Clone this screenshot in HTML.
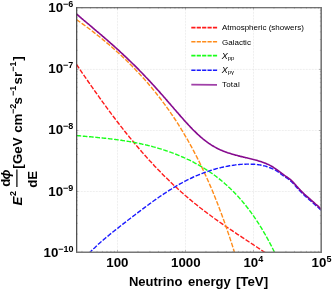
<!DOCTYPE html>
<html><head><meta charset="utf-8"><style>
html,body{margin:0;padding:0;background:#fff;overflow:hidden;}
svg{display:block;}
text{font-family:"Liberation Sans",sans-serif;}
.b{font-weight:bold;font-size:13.3px;fill:#000;}
.s{font-weight:bold;font-size:9px;fill:#000;}
.lg{font-size:8px;fill:#000;}
</style></head><body>
<svg style="will-change:transform" width="332" height="292" viewBox="0 0 332 292">
<defs><clipPath id="c"><rect x="76.5" y="7.5" width="245.0" height="245.0"/></clipPath></defs>
<rect width="332" height="292" fill="#fff"/>
<g stroke="#d6d6d6" stroke-width="0.6" stroke-dasharray="0.7 0.8" fill="none"><line x1="117.50" y1="7.50" x2="117.50" y2="252.50"/><line x1="185.50" y1="7.50" x2="185.50" y2="252.50"/><line x1="253.50" y1="7.50" x2="253.50" y2="252.50"/><line x1="76.50" y1="69.40" x2="321.50" y2="69.40"/><line x1="76.50" y1="130.50" x2="321.50" y2="130.50"/><line x1="76.50" y1="191.50" x2="321.50" y2="191.50"/></g>
<g fill="none" stroke-width="1.4" stroke-dasharray="4.7 1.6" clip-path="url(#c)">
<path d="M76.5,64.4 L77.5,65.9 L78.5,67.4 L79.5,68.9 L80.5,70.3 L81.5,71.8 L82.5,73.3 L83.5,74.7 L84.5,76.2 L85.5,77.6 L86.5,79.1 L87.5,80.5 L88.5,82.0 L89.5,83.4 L90.5,84.9 L91.5,86.3 L92.5,87.7 L93.5,89.2 L94.5,90.6 L95.5,92.0 L96.5,93.4 L97.5,94.8 L98.5,96.2 L99.5,97.6 L100.5,99.0 L101.5,100.4 L102.5,101.8 L103.5,103.2 L104.5,104.6 L105.5,105.9 L106.5,107.3 L107.5,108.7 L108.5,110.0 L109.5,111.4 L110.5,112.7 L111.5,114.1 L112.5,115.4 L113.5,116.7 L114.5,118.0 L115.5,119.4 L116.5,120.7 L117.5,122.0 L118.5,123.3 L119.5,124.6 L120.5,125.9 L121.5,127.1 L122.5,128.4 L123.5,129.7 L124.5,131.0 L125.5,132.2 L126.5,133.5 L127.5,134.7 L128.5,135.9 L129.5,137.2 L130.5,138.4 L131.5,139.6 L132.5,140.8 L133.5,142.0 L134.5,143.3 L135.5,144.4 L136.5,145.6 L137.5,146.8 L138.5,148.0 L139.5,149.2 L140.5,150.3 L141.5,151.5 L142.5,152.6 L143.5,153.8 L144.5,154.9 L145.5,156.0 L146.5,157.1 L147.5,158.3 L148.5,159.4 L149.5,160.5 L150.5,161.6 L151.5,162.6 L152.5,163.7 L153.5,164.8 L154.5,165.9 L155.5,166.9 L156.5,168.0 L157.5,169.0 L158.5,170.1 L159.5,171.1 L160.5,172.1 L161.5,173.1 L162.5,174.2 L163.5,175.2 L164.5,176.2 L165.5,177.2 L166.5,178.1 L167.5,179.1 L168.5,180.1 L169.5,181.1 L170.5,182.0 L171.5,183.0 L172.5,183.9 L173.5,184.9 L174.5,185.8 L175.5,186.7 L176.5,187.6 L177.5,188.6 L178.5,189.5 L179.5,190.4 L180.5,191.3 L181.5,192.2 L182.5,193.0 L183.5,193.9 L184.5,194.8 L185.5,195.7 L186.5,196.5 L187.5,197.4 L188.5,198.2 L189.5,199.1 L190.5,199.9 L191.5,200.7 L192.5,201.6 L193.5,202.4 L194.5,203.2 L195.5,204.0 L196.5,204.8 L197.5,205.6 L198.5,206.4 L199.5,207.2 L200.5,208.0 L201.5,208.7 L202.5,209.5 L203.5,210.3 L204.5,211.1 L205.5,211.8 L206.5,212.6 L207.5,213.3 L208.5,214.1 L209.5,214.8 L210.5,215.5 L211.5,216.3 L212.5,217.0 L213.5,217.7 L214.5,218.5 L215.5,219.2 L216.5,219.9 L217.5,220.6 L218.5,221.3 L219.5,222.0 L220.5,222.7 L221.5,223.4 L222.5,224.1 L223.5,224.8 L224.5,225.5 L225.5,226.2 L226.5,226.9 L227.5,227.5 L228.5,228.2 L229.5,228.9 L230.5,229.6 L231.5,230.2 L232.5,230.9 L233.5,231.6 L234.5,232.3 L235.5,232.9 L236.5,233.6 L237.5,234.3 L238.5,234.9 L239.5,235.6 L240.5,236.2 L241.5,236.9 L242.5,237.6 L243.5,238.2 L244.5,238.9 L245.5,239.5 L246.5,240.2 L247.5,240.9 L248.5,241.5 L249.5,242.2 L250.5,242.8 L251.5,243.5 L252.5,244.2 L253.5,244.8 L254.5,245.5 L255.5,246.2 L256.5,246.8 L257.5,247.5 L258.5,248.2 L259.5,248.8 L260.5,249.5 L261.5,250.2 L262.5,250.9 L263.5,251.6 L264.5,252.2 L265.5,252.9 L266.5,253.6 L267.5,254.3 L268.5,255.0 L269.5,255.7 L270.5,256.4 L271.5,257.1 L272.5,257.7 L273.5,258.4" stroke="#ff1a1a"/>
<path d="M76.5,19.6 L77.5,20.3 L78.5,21.0 L79.5,21.7 L80.5,22.4 L81.5,23.2 L82.5,23.9 L83.5,24.6 L84.5,25.3 L85.5,26.1 L86.5,26.8 L87.5,27.5 L88.5,28.3 L89.5,29.0 L90.5,29.8 L91.5,30.5 L92.5,31.3 L93.5,32.1 L94.5,32.9 L95.5,33.6 L96.5,34.4 L97.5,35.2 L98.5,36.0 L99.5,36.8 L100.5,37.6 L101.5,38.4 L102.5,39.2 L103.5,40.1 L104.5,40.9 L105.5,41.7 L106.5,42.6 L107.5,43.4 L108.5,44.2 L109.5,45.1 L110.5,46.0 L111.5,46.8 L112.5,47.7 L113.5,48.6 L114.5,49.5 L115.5,50.4 L116.5,51.3 L117.5,52.2 L118.5,53.1 L119.5,54.0 L120.5,54.9 L121.5,55.8 L122.5,56.8 L123.5,57.7 L124.5,58.7 L125.5,59.6 L126.5,60.6 L127.5,61.6 L128.5,62.6 L129.5,63.6 L130.5,64.6 L131.5,65.6 L132.5,66.6 L133.5,67.6 L134.5,68.6 L135.5,69.7 L136.5,70.7 L137.5,71.8 L138.5,72.8 L139.5,73.9 L140.5,75.0 L141.5,76.1 L142.5,77.2 L143.5,78.3 L144.5,79.4 L145.5,80.5 L146.5,81.7 L147.5,82.8 L148.5,84.0 L149.5,85.2 L150.5,86.4 L151.5,87.5 L152.5,88.8 L153.5,90.0 L154.5,91.2 L155.5,92.4 L156.5,93.7 L157.5,95.0 L158.5,96.2 L159.5,97.5 L160.5,98.8 L161.5,100.1 L162.5,101.5 L163.5,102.8 L164.5,104.2 L165.5,105.5 L166.5,106.9 L167.5,108.3 L168.5,109.7 L169.5,111.1 L170.5,112.6 L171.5,114.1 L172.5,115.5 L173.5,117.0 L174.5,118.5 L175.5,120.0 L176.5,121.6 L177.5,123.1 L178.5,124.7 L179.5,126.3 L180.5,127.9 L181.5,129.6 L182.5,131.2 L183.5,132.9 L184.5,134.6 L185.5,136.3 L186.5,138.0 L187.5,139.7 L188.5,141.5 L189.5,143.3 L190.5,145.1 L191.5,146.9 L192.5,148.8 L193.5,150.7 L194.5,152.6 L195.5,154.5 L196.5,156.4 L197.5,158.4 L198.5,160.4 L199.5,162.4 L200.5,164.5 L201.5,166.5 L202.5,168.6 L203.5,170.7 L204.5,172.9 L205.5,175.1 L206.5,177.3 L207.5,179.5 L208.5,181.8 L209.5,184.1 L210.5,186.4 L211.5,188.7 L212.5,191.1 L213.5,193.5 L214.5,196.0 L215.5,198.5 L216.5,201.0 L217.5,203.5 L218.5,206.1 L219.5,208.7 L220.5,211.4 L221.5,214.0 L222.5,216.8 L223.5,219.5 L224.5,222.3 L225.5,225.1 L226.5,228.0 L227.5,230.9 L228.5,233.9 L229.5,236.8 L230.5,239.9 L231.5,242.9 L232.5,246.0 L233.5,249.2 L234.5,252.4 L235.5,255.6" stroke="#ff8c1a"/>
<path d="M76.5,135.5 L77.5,135.6 L78.5,135.7 L79.5,135.8 L80.5,135.9 L81.5,136.0 L82.5,136.1 L83.5,136.2 L84.5,136.3 L85.5,136.4 L86.5,136.5 L87.5,136.6 L88.5,136.7 L89.5,136.7 L90.5,136.8 L91.5,136.9 L92.5,137.0 L93.5,137.1 L94.5,137.2 L95.5,137.3 L96.5,137.4 L97.5,137.5 L98.5,137.6 L99.5,137.7 L100.5,137.8 L101.5,137.9 L102.5,138.0 L103.5,138.1 L104.5,138.2 L105.5,138.3 L106.5,138.4 L107.5,138.5 L108.5,138.6 L109.5,138.8 L110.5,138.9 L111.5,139.0 L112.5,139.1 L113.5,139.2 L114.5,139.4 L115.5,139.5 L116.5,139.6 L117.5,139.8 L118.5,139.9 L119.5,140.0 L120.5,140.2 L121.5,140.3 L122.5,140.5 L123.5,140.6 L124.5,140.8 L125.5,140.9 L126.5,141.1 L127.5,141.3 L128.5,141.4 L129.5,141.6 L130.5,141.8 L131.5,142.0 L132.5,142.1 L133.5,142.3 L134.5,142.5 L135.5,142.7 L136.5,142.9 L137.5,143.1 L138.5,143.3 L139.5,143.5 L140.5,143.7 L141.5,143.9 L142.5,144.2 L143.5,144.4 L144.5,144.6 L145.5,144.8 L146.5,145.1 L147.5,145.3 L148.5,145.6 L149.5,145.8 L150.5,146.1 L151.5,146.3 L152.5,146.6 L153.5,146.9 L154.5,147.1 L155.5,147.4 L156.5,147.7 L157.5,148.0 L158.5,148.3 L159.5,148.6 L160.5,148.9 L161.5,149.2 L162.5,149.5 L163.5,149.8 L164.5,150.2 L165.5,150.5 L166.5,150.8 L167.5,151.2 L168.5,151.5 L169.5,151.9 L170.5,152.2 L171.5,152.6 L172.5,152.9 L173.5,153.3 L174.5,153.7 L175.5,154.1 L176.5,154.5 L177.5,154.9 L178.5,155.3 L179.5,155.7 L180.5,156.1 L181.5,156.6 L182.5,157.0 L183.5,157.4 L184.5,157.9 L185.5,158.3 L186.5,158.8 L187.5,159.3 L188.5,159.7 L189.5,160.2 L190.5,160.7 L191.5,161.2 L192.5,161.7 L193.5,162.2 L194.5,162.8 L195.5,163.3 L196.5,163.9 L197.5,164.4 L198.5,165.0 L199.5,165.5 L200.5,166.1 L201.5,166.7 L202.5,167.3 L203.5,167.9 L204.5,168.5 L205.5,169.2 L206.5,169.8 L207.5,170.4 L208.5,171.1 L209.5,171.8 L210.5,172.5 L211.5,173.1 L212.5,173.8 L213.5,174.6 L214.5,175.3 L215.5,176.0 L216.5,176.8 L217.5,177.6 L218.5,178.3 L219.5,179.1 L220.5,179.9 L221.5,180.7 L222.5,181.6 L223.5,182.4 L224.5,183.3 L225.5,184.2 L226.5,185.0 L227.5,186.0 L228.5,186.9 L229.5,187.8 L230.5,188.8 L231.5,189.7 L232.5,190.7 L233.5,191.7 L234.5,192.7 L235.5,193.8 L236.5,194.8 L237.5,195.9 L238.5,197.0 L239.5,198.1 L240.5,199.2 L241.5,200.4 L242.5,201.6 L243.5,202.8 L244.5,204.0 L245.5,205.2 L246.5,206.5 L247.5,207.7 L248.5,209.0 L249.5,210.4 L250.5,211.7 L251.5,213.1 L252.5,214.5 L253.5,215.9 L254.5,217.3 L255.5,218.8 L256.5,220.3 L257.5,221.8 L258.5,223.4 L259.5,225.0 L260.5,226.6 L261.5,228.2 L262.5,229.9 L263.5,231.6 L264.5,233.3 L265.5,235.0 L266.5,236.8 L267.5,238.6 L268.5,240.5 L269.5,242.4 L270.5,244.3 L271.5,246.2 L272.5,248.2 L273.5,250.2 L274.5,252.3 L275.5,254.3 L276.5,256.4 L277.5,258.5" stroke="#1aff1a"/>
<path d="M84.5,257.8 L85.5,256.8 L86.5,255.8 L87.5,254.7 L88.5,253.7 L89.5,252.7 L90.5,251.8 L91.5,250.8 L92.5,249.8 L93.5,248.8 L94.5,247.9 L95.5,246.9 L96.5,246.0 L97.5,245.1 L98.5,244.1 L99.5,243.2 L100.5,242.3 L101.5,241.5 L102.5,240.6 L103.5,239.7 L104.5,238.9 L105.5,238.0 L106.5,237.2 L107.5,236.4 L108.5,235.6 L109.5,234.7 L110.5,233.9 L111.5,233.1 L112.5,232.3 L113.5,231.5 L114.5,230.7 L115.5,229.9 L116.5,229.1 L117.5,228.4 L118.5,227.6 L119.5,226.8 L120.5,226.0 L121.5,225.2 L122.5,224.4 L123.5,223.6 L124.5,222.9 L125.5,222.1 L126.5,221.3 L127.5,220.5 L128.5,219.8 L129.5,219.0 L130.5,218.2 L131.5,217.5 L132.5,216.7 L133.5,215.9 L134.5,215.2 L135.5,214.4 L136.5,213.6 L137.5,212.9 L138.5,212.1 L139.5,211.4 L140.5,210.6 L141.5,209.9 L142.5,209.1 L143.5,208.4 L144.5,207.6 L145.5,206.9 L146.5,206.1 L147.5,205.4 L148.5,204.7 L149.5,203.9 L150.5,203.2 L151.5,202.5 L152.5,201.8 L153.5,201.0 L154.5,200.3 L155.5,199.6 L156.5,198.9 L157.5,198.2 L158.5,197.5 L159.5,196.8 L160.5,196.1 L161.5,195.5 L162.5,194.8 L163.5,194.1 L164.5,193.4 L165.5,192.8 L166.5,192.1 L167.5,191.5 L168.5,190.8 L169.5,190.2 L170.5,189.6 L171.5,189.0 L172.5,188.3 L173.5,187.7 L174.5,187.1 L175.5,186.5 L176.5,185.9 L177.5,185.3 L178.5,184.8 L179.5,184.2 L180.5,183.6 L181.5,183.1 L182.5,182.5 L183.5,182.0 L184.5,181.5 L185.5,181.0 L186.5,180.4 L187.5,179.9 L188.5,179.4 L189.5,178.9 L190.5,178.5 L191.5,178.0 L192.5,177.5 L193.5,177.0 L194.5,176.6 L195.5,176.2 L196.5,175.7 L197.5,175.3 L198.5,174.9 L199.5,174.5 L200.5,174.1 L201.5,173.7 L202.5,173.3 L203.5,172.9 L204.5,172.5 L205.5,172.2 L206.5,171.8 L207.5,171.5 L208.5,171.1 L209.5,170.8 L210.5,170.5 L211.5,170.2 L212.5,169.8 L213.5,169.5 L214.5,169.3 L215.5,169.0 L216.5,168.7 L217.5,168.4 L218.5,168.2 L219.5,167.9 L220.5,167.7 L221.5,167.4 L222.5,167.2 L223.5,167.0 L224.5,166.8 L225.5,166.6 L226.5,166.4 L227.5,166.2 L228.5,166.0 L229.5,165.8 L230.5,165.7 L231.5,165.5 L232.5,165.4 L233.5,165.2 L234.5,165.1 L235.5,164.9 L236.5,164.8 L237.5,164.7 L238.5,164.6 L239.5,164.5 L240.5,164.4 L241.5,164.4 L242.5,164.3 L243.5,164.3 L244.5,164.2 L245.5,164.2 L246.5,164.1 L247.5,164.1 L248.5,164.1 L249.5,164.1 L250.5,164.1 L251.5,164.2 L252.5,164.2 L253.5,164.3 L254.5,164.3 L255.5,164.4 L256.5,164.5 L257.5,164.6 L258.5,164.7 L259.5,164.9 L260.5,165.0 L261.5,165.2 L262.5,165.4 L263.5,165.7 L264.5,165.9 L265.5,166.2 L266.5,166.5 L267.5,166.9 L268.5,167.2 L269.5,167.6 L270.5,168.0 L271.5,168.4 L272.5,168.8 L273.5,169.2 L274.5,169.7 L275.5,170.2 L276.5,170.8 L277.5,171.4 L278.5,172.2 L279.5,173.0 L280.5,173.7 L281.5,174.5 L282.5,175.2 L283.5,175.8 L284.5,176.5 L285.5,177.2 L286.5,177.8 L287.5,178.5 L288.5,179.2 L289.5,180.0 L290.5,180.9 L291.5,181.8 L292.5,182.8 L293.5,183.8 L294.5,184.9 L295.5,186.0 L296.5,187.2 L297.5,188.3 L298.5,189.4 L299.5,190.5 L300.5,191.6 L301.5,192.6 L302.5,193.6 L303.5,194.5 L304.5,195.5 L305.5,196.4 L306.5,197.2 L307.5,198.1 L308.5,199.0 L309.5,199.9 L310.5,200.8 L311.5,201.6 L312.5,202.5 L313.5,203.4 L314.5,204.3 L315.5,205.2 L316.5,206.0 L317.5,206.9 L318.5,207.8 L319.5,208.8 L320.5,209.7 L321.5,210.6" stroke="#1a1aff"/>
</g>
<path d="M76.5,14.0 L77.5,14.8 L78.5,15.7 L79.5,16.6 L80.5,17.4 L81.5,18.3 L82.5,19.1 L83.5,20.0 L84.5,20.8 L85.5,21.7 L86.5,22.5 L87.5,23.4 L88.5,24.2 L89.5,25.0 L90.5,25.9 L91.5,26.7 L92.5,27.6 L93.5,28.4 L94.5,29.3 L95.5,30.1 L96.5,31.0 L97.5,31.8 L98.5,32.7 L99.5,33.5 L100.5,34.4 L101.5,35.2 L102.5,36.1 L103.5,36.9 L104.5,37.8 L105.5,38.7 L106.5,39.5 L107.5,40.4 L108.5,41.3 L109.5,42.2 L110.5,43.1 L111.5,43.9 L112.5,44.8 L113.5,45.7 L114.5,46.6 L115.5,47.5 L116.5,48.4 L117.5,49.3 L118.5,50.2 L119.5,51.1 L120.5,52.1 L121.5,53.0 L122.5,53.9 L123.5,54.9 L124.5,55.8 L125.5,56.7 L126.5,57.7 L127.5,58.6 L128.5,59.6 L129.5,60.6 L130.5,61.5 L131.5,62.5 L132.5,63.5 L133.5,64.4 L134.5,65.4 L135.5,66.4 L136.5,67.4 L137.5,68.4 L138.5,69.4 L139.5,70.5 L140.5,71.5 L141.5,72.5 L142.5,73.5 L143.5,74.6 L144.5,75.6 L145.5,76.7 L146.5,77.7 L147.5,78.8 L148.5,79.9 L149.5,80.9 L150.5,82.0 L151.5,83.1 L152.5,84.2 L153.5,85.3 L154.5,86.4 L155.5,87.5 L156.5,88.6 L157.5,89.7 L158.5,90.8 L159.5,91.9 L160.5,93.1 L161.5,94.2 L162.5,95.3 L163.5,96.5 L164.5,97.6 L165.5,98.8 L166.5,99.9 L167.5,101.1 L168.5,102.2 L169.5,103.4 L170.5,104.5 L171.5,105.7 L172.5,106.8 L173.5,108.0 L174.5,109.2 L175.5,110.3 L176.5,111.5 L177.5,112.6 L178.5,113.8 L179.5,114.9 L180.5,116.1 L181.5,117.2 L182.5,118.3 L183.5,119.5 L184.5,120.6 L185.5,121.7 L186.5,122.8 L187.5,123.9 L188.5,125.0 L189.5,126.0 L190.5,127.1 L191.5,128.1 L192.5,129.2 L193.5,130.2 L194.5,131.2 L195.5,132.1 L196.5,133.1 L197.5,134.1 L198.5,135.0 L199.5,135.9 L200.5,136.8 L201.5,137.6 L202.5,138.5 L203.5,139.3 L204.5,140.1 L205.5,140.9 L206.5,141.6 L207.5,142.4 L208.5,143.1 L209.5,143.8 L210.5,144.4 L211.5,145.1 L212.5,145.7 L213.5,146.3 L214.5,146.9 L215.5,147.4 L216.5,148.0 L217.5,148.5 L218.5,149.0 L219.5,149.4 L220.5,149.9 L221.5,150.3 L222.5,150.8 L223.5,151.2 L224.5,151.6 L225.5,151.9 L226.5,152.3 L227.5,152.7 L228.5,153.0 L229.5,153.3 L230.5,153.6 L231.5,153.9 L232.5,154.2 L233.5,154.5 L234.5,154.8 L235.5,155.1 L236.5,155.3 L237.5,155.6 L238.5,155.9 L239.5,156.1 L240.5,156.4 L241.5,156.6 L242.5,156.8 L243.5,157.1 L244.5,157.3 L245.5,157.6 L246.5,157.8 L247.5,158.0 L248.5,158.3 L249.5,158.5 L250.5,158.8 L251.5,159.0 L252.5,159.3 L253.5,159.5 L254.5,159.8 L255.5,160.0 L256.5,160.3 L257.5,160.6 L258.5,160.9 L259.5,161.2 L260.5,161.5 L261.5,161.8 L262.5,162.2 L263.5,162.5 L264.5,162.9 L265.5,163.3 L266.5,163.7 L267.5,164.2 L268.5,164.6 L269.5,165.1 L270.5,165.6 L271.5,166.2 L272.5,166.8 L273.5,167.4 L274.5,168.1 L275.5,168.7 L276.5,169.5 L277.5,170.2 L278.5,170.9 L279.5,171.7 L280.5,172.4 L281.5,173.2 L282.5,173.9 L283.5,174.6 L284.5,175.4 L285.5,176.1 L286.5,176.7 L287.5,177.4 L288.5,178.1 L289.5,178.9 L290.5,179.7 L291.5,180.6 L292.5,181.5 L293.5,182.6 L294.5,183.7 L295.5,184.8 L296.5,186.0 L297.5,187.1 L298.5,188.2 L299.5,189.3 L300.5,190.4 L301.5,191.4 L302.5,192.4 L303.5,193.3 L304.5,194.3 L305.5,195.2 L306.5,196.0 L307.5,196.9 L308.5,197.8 L309.5,198.7 L310.5,199.6 L311.5,200.4 L312.5,201.3 L313.5,202.2 L314.5,203.1 L315.5,204.0 L316.5,204.8 L317.5,205.7 L318.5,206.6 L319.5,207.6 L320.5,208.5 L321.5,209.4" stroke="#860a8e" stroke-width="1.6" fill="none" clip-path="url(#c)"/>
<g stroke="#777" stroke-width="0.5"><line x1="81.94" y1="252.50" x2="81.94" y2="250.90"/><line x1="81.94" y1="7.50" x2="81.94" y2="8.50"/><line x1="90.44" y1="252.50" x2="90.44" y2="250.90"/><line x1="90.44" y1="7.50" x2="90.44" y2="8.50"/><line x1="97.03" y1="252.50" x2="97.03" y2="250.90"/><line x1="97.03" y1="7.50" x2="97.03" y2="8.50"/><line x1="102.41" y1="252.50" x2="102.41" y2="250.90"/><line x1="102.41" y1="7.50" x2="102.41" y2="8.50"/><line x1="106.97" y1="252.50" x2="106.97" y2="250.90"/><line x1="106.97" y1="7.50" x2="106.97" y2="8.50"/><line x1="110.91" y1="252.50" x2="110.91" y2="250.90"/><line x1="110.91" y1="7.50" x2="110.91" y2="8.50"/><line x1="114.39" y1="252.50" x2="114.39" y2="250.90"/><line x1="114.39" y1="7.50" x2="114.39" y2="8.50"/><line x1="137.97" y1="252.50" x2="137.97" y2="250.90"/><line x1="137.97" y1="7.50" x2="137.97" y2="8.50"/><line x1="149.94" y1="252.50" x2="149.94" y2="250.90"/><line x1="149.94" y1="7.50" x2="149.94" y2="8.50"/><line x1="158.44" y1="252.50" x2="158.44" y2="250.90"/><line x1="158.44" y1="7.50" x2="158.44" y2="8.50"/><line x1="165.03" y1="252.50" x2="165.03" y2="250.90"/><line x1="165.03" y1="7.50" x2="165.03" y2="8.50"/><line x1="170.41" y1="252.50" x2="170.41" y2="250.90"/><line x1="170.41" y1="7.50" x2="170.41" y2="8.50"/><line x1="174.97" y1="252.50" x2="174.97" y2="250.90"/><line x1="174.97" y1="7.50" x2="174.97" y2="8.50"/><line x1="178.91" y1="252.50" x2="178.91" y2="250.90"/><line x1="178.91" y1="7.50" x2="178.91" y2="8.50"/><line x1="182.39" y1="252.50" x2="182.39" y2="250.90"/><line x1="182.39" y1="7.50" x2="182.39" y2="8.50"/><line x1="205.97" y1="252.50" x2="205.97" y2="250.90"/><line x1="205.97" y1="7.50" x2="205.97" y2="8.50"/><line x1="217.94" y1="252.50" x2="217.94" y2="250.90"/><line x1="217.94" y1="7.50" x2="217.94" y2="8.50"/><line x1="226.44" y1="252.50" x2="226.44" y2="250.90"/><line x1="226.44" y1="7.50" x2="226.44" y2="8.50"/><line x1="233.03" y1="252.50" x2="233.03" y2="250.90"/><line x1="233.03" y1="7.50" x2="233.03" y2="8.50"/><line x1="238.41" y1="252.50" x2="238.41" y2="250.90"/><line x1="238.41" y1="7.50" x2="238.41" y2="8.50"/><line x1="242.97" y1="252.50" x2="242.97" y2="250.90"/><line x1="242.97" y1="7.50" x2="242.97" y2="8.50"/><line x1="246.91" y1="252.50" x2="246.91" y2="250.90"/><line x1="246.91" y1="7.50" x2="246.91" y2="8.50"/><line x1="250.39" y1="252.50" x2="250.39" y2="250.90"/><line x1="250.39" y1="7.50" x2="250.39" y2="8.50"/><line x1="273.97" y1="252.50" x2="273.97" y2="250.90"/><line x1="273.97" y1="7.50" x2="273.97" y2="8.50"/><line x1="285.94" y1="252.50" x2="285.94" y2="250.90"/><line x1="285.94" y1="7.50" x2="285.94" y2="8.50"/><line x1="294.44" y1="252.50" x2="294.44" y2="250.90"/><line x1="294.44" y1="7.50" x2="294.44" y2="8.50"/><line x1="301.03" y1="252.50" x2="301.03" y2="250.90"/><line x1="301.03" y1="7.50" x2="301.03" y2="8.50"/><line x1="306.41" y1="252.50" x2="306.41" y2="250.90"/><line x1="306.41" y1="7.50" x2="306.41" y2="8.50"/><line x1="310.97" y1="252.50" x2="310.97" y2="250.90"/><line x1="310.97" y1="7.50" x2="310.97" y2="8.50"/><line x1="314.91" y1="252.50" x2="314.91" y2="250.90"/><line x1="314.91" y1="7.50" x2="314.91" y2="8.50"/><line x1="318.39" y1="252.50" x2="318.39" y2="250.90"/><line x1="318.39" y1="7.50" x2="318.39" y2="8.50"/><line x1="76.50" y1="234.06" x2="77.50" y2="234.06"/><line x1="321.50" y1="234.06" x2="319.90" y2="234.06"/><line x1="76.50" y1="223.28" x2="77.50" y2="223.28"/><line x1="321.50" y1="223.28" x2="319.90" y2="223.28"/><line x1="76.50" y1="215.62" x2="77.50" y2="215.62"/><line x1="321.50" y1="215.62" x2="319.90" y2="215.62"/><line x1="76.50" y1="209.69" x2="77.50" y2="209.69"/><line x1="321.50" y1="209.69" x2="319.90" y2="209.69"/><line x1="76.50" y1="204.84" x2="77.50" y2="204.84"/><line x1="321.50" y1="204.84" x2="319.90" y2="204.84"/><line x1="76.50" y1="200.74" x2="77.50" y2="200.74"/><line x1="321.50" y1="200.74" x2="319.90" y2="200.74"/><line x1="76.50" y1="197.19" x2="77.50" y2="197.19"/><line x1="321.50" y1="197.19" x2="319.90" y2="197.19"/><line x1="76.50" y1="194.05" x2="77.50" y2="194.05"/><line x1="321.50" y1="194.05" x2="319.90" y2="194.05"/><line x1="76.50" y1="172.81" x2="77.50" y2="172.81"/><line x1="321.50" y1="172.81" x2="319.90" y2="172.81"/><line x1="76.50" y1="162.03" x2="77.50" y2="162.03"/><line x1="321.50" y1="162.03" x2="319.90" y2="162.03"/><line x1="76.50" y1="154.37" x2="77.50" y2="154.37"/><line x1="321.50" y1="154.37" x2="319.90" y2="154.37"/><line x1="76.50" y1="148.44" x2="77.50" y2="148.44"/><line x1="321.50" y1="148.44" x2="319.90" y2="148.44"/><line x1="76.50" y1="143.59" x2="77.50" y2="143.59"/><line x1="321.50" y1="143.59" x2="319.90" y2="143.59"/><line x1="76.50" y1="139.49" x2="77.50" y2="139.49"/><line x1="321.50" y1="139.49" x2="319.90" y2="139.49"/><line x1="76.50" y1="135.94" x2="77.50" y2="135.94"/><line x1="321.50" y1="135.94" x2="319.90" y2="135.94"/><line x1="76.50" y1="132.80" x2="77.50" y2="132.80"/><line x1="321.50" y1="132.80" x2="319.90" y2="132.80"/><line x1="76.50" y1="111.56" x2="77.50" y2="111.56"/><line x1="321.50" y1="111.56" x2="319.90" y2="111.56"/><line x1="76.50" y1="100.78" x2="77.50" y2="100.78"/><line x1="321.50" y1="100.78" x2="319.90" y2="100.78"/><line x1="76.50" y1="93.12" x2="77.50" y2="93.12"/><line x1="321.50" y1="93.12" x2="319.90" y2="93.12"/><line x1="76.50" y1="87.19" x2="77.50" y2="87.19"/><line x1="321.50" y1="87.19" x2="319.90" y2="87.19"/><line x1="76.50" y1="82.34" x2="77.50" y2="82.34"/><line x1="321.50" y1="82.34" x2="319.90" y2="82.34"/><line x1="76.50" y1="78.24" x2="77.50" y2="78.24"/><line x1="321.50" y1="78.24" x2="319.90" y2="78.24"/><line x1="76.50" y1="74.69" x2="77.50" y2="74.69"/><line x1="321.50" y1="74.69" x2="319.90" y2="74.69"/><line x1="76.50" y1="71.55" x2="77.50" y2="71.55"/><line x1="321.50" y1="71.55" x2="319.90" y2="71.55"/><line x1="76.50" y1="50.31" x2="77.50" y2="50.31"/><line x1="321.50" y1="50.31" x2="319.90" y2="50.31"/><line x1="76.50" y1="39.53" x2="77.50" y2="39.53"/><line x1="321.50" y1="39.53" x2="319.90" y2="39.53"/><line x1="76.50" y1="31.87" x2="77.50" y2="31.87"/><line x1="321.50" y1="31.87" x2="319.90" y2="31.87"/><line x1="76.50" y1="25.94" x2="77.50" y2="25.94"/><line x1="321.50" y1="25.94" x2="319.90" y2="25.94"/><line x1="76.50" y1="21.09" x2="77.50" y2="21.09"/><line x1="321.50" y1="21.09" x2="319.90" y2="21.09"/><line x1="76.50" y1="16.99" x2="77.50" y2="16.99"/><line x1="321.50" y1="16.99" x2="319.90" y2="16.99"/><line x1="76.50" y1="13.44" x2="77.50" y2="13.44"/><line x1="321.50" y1="13.44" x2="319.90" y2="13.44"/><line x1="76.50" y1="10.30" x2="77.50" y2="10.30"/><line x1="321.50" y1="10.30" x2="319.90" y2="10.30"/><line x1="117.50" y1="252.50" x2="117.50" y2="250.00"/><line x1="117.50" y1="7.50" x2="117.50" y2="9.40"/><line x1="185.50" y1="252.50" x2="185.50" y2="250.00"/><line x1="185.50" y1="7.50" x2="185.50" y2="9.40"/><line x1="253.50" y1="252.50" x2="253.50" y2="250.00"/><line x1="253.50" y1="7.50" x2="253.50" y2="9.40"/><line x1="76.50" y1="69.40" x2="78.40" y2="69.40"/><line x1="321.50" y1="69.40" x2="319.00" y2="69.40"/><line x1="76.50" y1="130.50" x2="78.40" y2="130.50"/><line x1="321.50" y1="130.50" x2="319.00" y2="130.50"/><line x1="76.50" y1="191.50" x2="78.40" y2="191.50"/><line x1="321.50" y1="191.50" x2="319.00" y2="191.50"/></g>
<line x1="76.7" y1="7.2" x2="76.7" y2="253" stroke="#333" stroke-width="1.1"/>
<line x1="76.2" y1="7.7" x2="322" y2="7.7" stroke="#444" stroke-width="1.1"/>
<line x1="321.2" y1="7.2" x2="321.2" y2="253" stroke="#777" stroke-width="1.6"/>
<line x1="76.2" y1="252.3" x2="322" y2="252.3" stroke="#777" stroke-width="1.5"/>
<!-- legend -->
<g stroke-width="1.55" fill="none" stroke-dasharray="4.2 1.2">
<line x1="191.3" y1="27.6" x2="217.1" y2="27.6" stroke="#ff1a1a"/>
<line x1="191.3" y1="41.8" x2="217.1" y2="41.8" stroke="#ff8c1a"/>
<line x1="191.3" y1="55.6" x2="217.1" y2="55.6" stroke="#1aff1a"/>
<line x1="191.3" y1="70.3" x2="217.1" y2="70.3" stroke="#1a1aff"/>
</g>
<line x1="191.3" y1="84.7" x2="217.0" y2="84.9" stroke="#a040a8" stroke-width="1.8"/>
<text class="lg" x="222.0" y="30.3">Atmospheric (showers)</text>
<text class="lg" x="222.0" y="44.8">Galactic</text>
<text class="lg" x="221.7" y="59.2"><tspan font-style="italic" font-size="9px">X</tspan><tspan font-size="6.0px" dy="0.9">pp</tspan></text>
<text class="lg" x="221.7" y="73.3"><tspan font-style="italic" font-size="9px">X</tspan><tspan font-size="6.0px" dy="0.9">pγ</tspan></text>
<text class="lg" x="222.0" y="87.4" style="letter-spacing:0.2px">Total</text>
<!-- y tick labels -->
<text class="b" x="48.3" y="11.9">10<tspan class="s" dy="-5.0">−6</tspan></text>
<text class="b" x="48.3" y="73.1">10<tspan class="s" dy="-5.0">−7</tspan></text>
<text class="b" x="48.3" y="134.4">10<tspan class="s" dy="-5.0">−8</tspan></text>
<text class="b" x="48.3" y="195.6">10<tspan class="s" dy="-5.0">−9</tspan></text>
<text class="b" x="43.5" y="256.8">10<tspan class="s" dy="-5.0">−10</tspan></text>
<!-- x tick labels -->
<text class="b" x="117.4" y="267.1" text-anchor="middle">100</text>
<text class="b" x="185.8" y="267.1" text-anchor="middle">1000</text>
<text class="b" x="243.4" y="267.1">10<tspan class="s" dy="-5.2">4</tspan></text>
<text class="b" x="311.6" y="267.1">10<tspan class="s" dy="-5.2">5</tspan></text>
<text class="b" x="128.9" y="286.4" style="font-size:13px">Neutrino</text>
<text class="b" x="188.1" y="286.4" style="font-size:13px">energy</text>
<text class="b" x="235.9" y="286.4" style="font-size:13.3px">[TeV]</text>
<!-- y label -->
<text transform="translate(21.60,205.60) rotate(-90)" style="font-weight:bold;font-style:italic;font-size:13.3px" fill="#000">E</text>
<text transform="translate(15.60,196.05) rotate(-90)" style="font-weight:bold;font-size:9.0px" fill="#000">2</text>
<text transform="translate(10.00,186.70) rotate(-90)" style="font-weight:bold;font-size:13.3px" fill="#000">d</text>
<text transform="translate(10.00,179.45) rotate(-90)" style="font-weight:bold;font-style:italic;font-size:13.3px" fill="#000">ϕ</text>
<text transform="translate(37.40,187.80) rotate(-90)" style="font-weight:bold;font-size:13.3px" fill="#000">dE</text>
<text transform="translate(22.00,168.85) rotate(-90)" style="font-weight:bold;font-size:13.3px" fill="#000">[</text>
<text transform="translate(22.00,164.00) rotate(-90)" style="font-weight:bold;font-size:13.3px" fill="#000">GeV</text>
<text transform="translate(22.00,132.85) rotate(-90)" style="font-weight:bold;font-size:13.3px" fill="#000">cm</text>
<text transform="translate(15.80,113.95) rotate(-90)" style="font-weight:bold;font-size:9.0px" fill="#000">−2</text>
<text transform="translate(22.00,104.45) rotate(-90)" style="font-weight:bold;font-size:13.3px" fill="#000">s</text>
<text transform="translate(15.80,95.95) rotate(-90)" style="font-weight:bold;font-size:9.0px" fill="#000">−1</text>
<text transform="translate(22.00,84.40) rotate(-90)" style="font-weight:bold;font-size:13.3px" fill="#000">sr</text>
<text transform="translate(15.80,71.80) rotate(-90)" style="font-weight:bold;font-size:9.0px" fill="#000">−1</text>
<text transform="translate(22.00,60.70) rotate(-90)" style="font-weight:bold;font-size:13.3px" fill="#000">]</text>
<line x1="16.9" y1="169.5" x2="16.9" y2="186.9" stroke="#000" stroke-width="1.2"/>
</svg>
</body></html>
